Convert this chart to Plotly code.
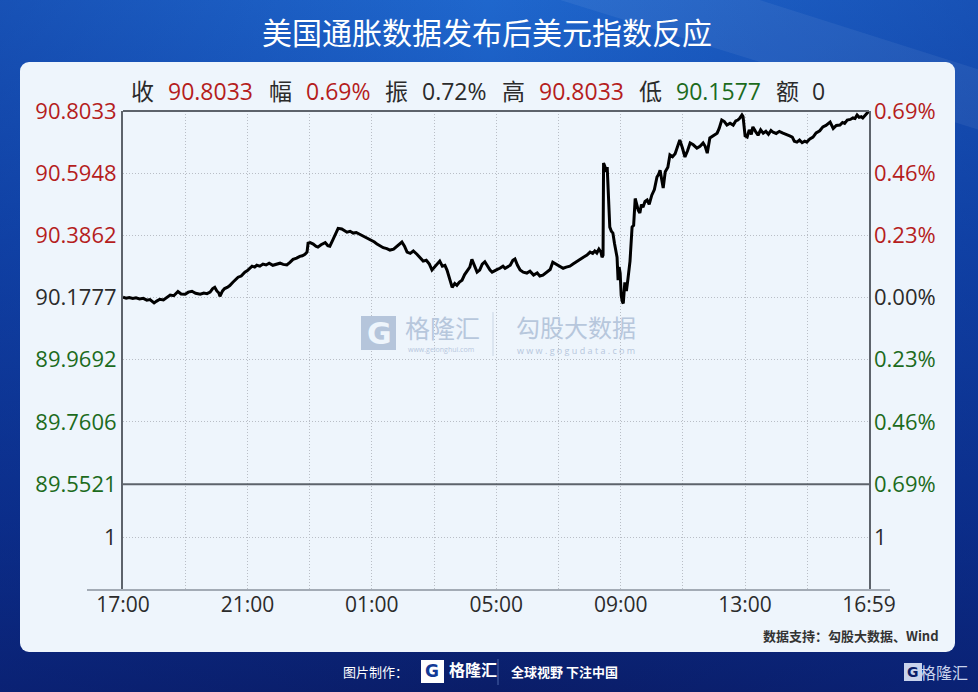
import base64
import plotly.graph_objects as go

# ---------------- data ----------------
TIMES = [
    "17:00","17:06","17:12","17:19","17:25","17:32","17:39","17:46","17:52","18:00",
    "18:05","18:11","18:18","18:24","18:31","18:38","18:46","18:52","19:00","19:06",
    "19:13","19:20","19:29","19:36","19:42","19:48","19:53","19:57","20:01","20:05",
    "20:07","20:12","20:16","20:21","20:26","20:32","20:37","20:42","20:48","20:55",
    "21:00","21:05","21:09","21:14","21:18","21:24","21:30","21:36","21:42","21:49",
    "21:55","22:03","22:09","22:16","22:22","22:28","22:35","22:41","22:46","22:51",
    "22:55","22:57","23:01","23:07","23:12","23:16","23:22","23:26","23:30","23:35",
    "23:39","23:45","23:50","23:55","00:02","00:08","00:12","00:18","00:24","00:30",
    "00:37","00:44","00:49","00:53","01:00","01:05","01:10","01:16","01:22","01:29",
    "01:35","01:42","01:50","01:58","02:03","02:08","02:14","02:20","02:27","02:33",
    "02:39","02:45","02:51","02:56","03:02","03:06","03:11","03:16","03:21","03:25",
    "03:30","03:35","03:40","03:44","03:49","03:54","03:59","04:04","04:09","04:13",
    "04:18","04:23","04:28","04:33","04:38","04:43","04:48","04:52","04:58","05:03",
    "05:07","05:13","05:17","05:21","05:27","05:32","05:36","05:41","05:46","05:52",
    "05:59","06:05","06:12","06:19","06:24","06:30","06:37","06:44","06:49","06:55",
    "07:03","07:09","07:15","07:22","07:28","07:36","07:42","07:48","07:55","08:01",
    "08:06","08:10","08:14","08:18","08:22","08:24","08:26","08:27","08:29","08:31",
    "08:33","08:34","08:36","08:37","08:39","08:42","08:45","08:48","08:50","08:53",
    "08:55","08:57","08:59","09:01","09:03","09:05","09:08","09:11","09:14","09:18",
    "09:22","09:25","09:28","09:31","09:34","09:37","09:40","09:43","09:47","09:51",
    "09:55","10:00","10:05","10:10","10:13","10:16","10:19","10:22","10:26","10:31",
    "10:35","10:40","10:45","10:49","10:54","10:59","11:04","11:09","11:14","11:20",
    "11:27","11:33","11:39","11:43","11:47","11:52","11:58","12:06","12:10","12:15",
    "12:20","12:25","12:31","12:37","12:42","12:46","12:50","12:54","12:56","12:58",
    "13:00","13:04","13:08","13:12","13:15","13:20","13:25","13:30","13:35","13:40",
    "13:45","13:50","13:54","14:00","14:06","14:13","14:20","14:26","14:31","14:35",
    "14:40","14:45","14:50","14:55","14:59","15:05","15:11","15:17","15:24","15:30",
    "15:36","15:40","15:44","15:50","15:56","16:03","16:08","16:12","16:17","16:23",
    "16:28","16:32","16:36","16:40","16:44","16:47","16:52","16:57","16:59",
]
PRICES = [
    90.179,90.176,90.178,90.175,90.177,90.173,90.175,90.169,90.171,90.160,
    90.166,90.172,90.170,90.178,90.186,90.184,90.198,90.190,90.189,90.196,
    90.199,90.192,90.189,90.193,90.191,90.196,90.208,90.212,90.200,90.193,
    90.182,90.200,90.208,90.212,90.218,90.229,90.238,90.246,90.250,90.263,
    90.268,90.276,90.283,90.280,90.286,90.283,90.290,90.287,90.293,90.286,
    90.290,90.293,90.289,90.287,90.296,90.306,90.310,90.316,90.318,90.323,
    90.330,90.360,90.362,90.357,90.350,90.347,90.355,90.360,90.362,90.352,
    90.350,90.372,90.394,90.410,90.408,90.403,90.397,90.400,90.394,90.396,
    90.390,90.383,90.380,90.375,90.368,90.364,90.357,90.350,90.345,90.342,
    90.337,90.340,90.352,90.364,90.350,90.330,90.326,90.334,90.323,90.310,
    90.300,90.303,90.290,90.270,90.283,90.290,90.300,90.283,90.286,90.270,
    90.240,90.212,90.225,90.219,90.230,90.236,90.255,90.270,90.280,90.306,
    90.285,90.263,90.270,90.290,90.298,90.283,90.270,90.263,90.270,90.273,
    90.276,90.283,90.276,90.280,90.286,90.303,90.307,90.286,90.270,90.263,
    90.260,90.266,90.253,90.260,90.250,90.253,90.263,90.272,90.296,90.290,
    90.280,90.276,90.280,90.283,90.290,90.300,90.306,90.313,90.320,90.330,
    90.326,90.334,90.327,90.340,90.330,90.313,90.320,90.629,90.620,90.610,
    90.600,90.615,90.545,90.480,90.414,90.400,90.394,90.360,90.340,90.313,
    90.236,90.280,90.260,90.185,90.165,90.158,90.229,90.200,90.240,90.300,
    90.414,90.420,90.510,90.490,90.470,90.461,90.490,90.481,90.500,90.505,
    90.490,90.521,90.540,90.582,90.590,90.605,90.570,90.545,90.600,90.615,
    90.656,90.650,90.660,90.679,90.706,90.680,90.649,90.670,90.696,90.690,
    90.679,90.685,90.696,90.685,90.662,90.713,90.720,90.729,90.745,90.773,
    90.768,90.756,90.762,90.756,90.770,90.773,90.780,90.790,90.785,90.760,
    90.720,90.716,90.740,90.725,90.750,90.735,90.722,90.740,90.729,90.735,
    90.725,90.738,90.732,90.728,90.735,90.729,90.725,90.720,90.716,90.702,
    90.699,90.706,90.697,90.702,90.699,90.710,90.716,90.730,90.737,90.750,
    90.755,90.760,90.766,90.745,90.755,90.756,90.765,90.762,90.773,90.775,
    90.780,90.778,90.790,90.782,90.784,90.780,90.790,90.800,90.8033,
]

LEFT_TICK_VALUES = [90.8033, 90.5948, 90.3862, 90.1777, 89.9692, 89.7606, 89.5521, 89.3747]
LEFT_TICK_LABELS = ["90.8033", "90.5948", "90.3862", "90.1777", "89.9692", "89.7606", "89.5521", "1"]
RIGHT_TICK_LABELS = ["0.69%", "0.46%", "0.23%", "0.00%", "0.23%", "0.46%", "0.69%", "1"]
TICK_TONES = ["up", "up", "up", "flat", "down", "down", "down", "flat"]
Y_RANGE = [89.1973, 90.8033]
PRICE_PANEL_BOTTOM = 89.5521

X_TICK_TIMES = ["17:00", "21:00", "01:00", "05:00", "09:00", "13:00", "16:59"]
X_MINOR_TIMES = ["19:00", "23:00", "03:00", "07:00", "11:00", "15:00"]

HEADER_ITEMS = [("收", "flat"), ("90.8033", "up"), ("幅", "flat"), ("0.69%", "up"),
                ("振", "flat"), ("0.72%", "flat"), ("高", "flat"), ("90.8033", "up"),
                ("低", "flat"), ("90.1577", "down"), ("额", "flat"), ("0", "flat")]
HEADER_X = [129, 166, 267, 304, 383, 420, 500, 537, 637, 674, 774, 810]

TITLE = "美国通胀数据发布后美元指数反应"
SOURCE = "数据支持：勾股大数据、Wind"

# ---------------- styles ----------------
TONE = {"up": "#b51d1d", "down": "#1c6b1c", "flat": "#2b2b2b"}
NUM_FONT = "Open Sans, Noto Sans CJK SC, sans-serif"
CJK_FONT = "Noto Sans CJK SC, sans-serif"
W, H = 978, 692
L, R, T, B = 123, 869, 111, 590
GRID_DASH = "1px,2px"


def to_dt(hhmm):
    day = "2021-05-11" if int(hhmm[:2]) >= 17 else "2021-05-12"
    return f"{day} {hhmm}:00"


def px(x):
    return (x - L) / (R - L)


def py(y):
    return (B - y) / (B - T)


def colored(text, tone):
    return f'<span style="color:{TONE[tone]}">{text}</span>'


# background (gradient + panel) as inline svg
svg = f"""<svg xmlns='http://www.w3.org/2000/svg' width='{W}' height='{H}'>
<defs>
<linearGradient id='g' x1='0' y1='0' x2='0' y2='1'>
<stop offset='0' stop-color='#1f67cd'/>
<stop offset='0.35' stop-color='#134cb2'/>
<stop offset='0.75' stop-color='#0c2f8a'/>
<stop offset='1' stop-color='#0a1d68'/>
</linearGradient>
<linearGradient id='s' x1='0' y1='0' x2='1' y2='0'>
<stop offset='0' stop-color='#0a2a8a' stop-opacity='0.35'/>
<stop offset='0.5' stop-color='#0a2a8a' stop-opacity='0'/>
<stop offset='1' stop-color='#0a2a8a' stop-opacity='0.35'/>
</linearGradient>
</defs>
<rect width='{W}' height='{H}' fill='url(#g)'/>
<rect width='{W}' height='{H}' fill='url(#s)'/>
<polygon points='560,0 760,0 980,70 980,130' fill='#ffffff' opacity='0.06'/>
<rect x='20' y='62' width='935' height='590' rx='9' fill='#eef5fc'/>
</svg>"""
bg_uri = "data:image/svg+xml;base64," + base64.b64encode(svg.encode("utf-8")).decode()

x_dt = [to_dt(t) for t in TIMES]

fig = go.Figure()
fig.add_trace(go.Scatter(x=x_dt, y=PRICES, mode="lines",
                         line=dict(color="#000000", width=3),
                         hoverinfo="skip", showlegend=False))
fig.add_trace(go.Scatter(x=x_dt, y=PRICES, mode="lines", yaxis="y2",
                         line=dict(color="rgba(0,0,0,0)", width=0),
                         hoverinfo="skip", showlegend=False))

grid = dict(showgrid=True, gridcolor="#b9bec6", gridwidth=1, griddash=GRID_DASH)

fig.update_layout(
    width=W, height=H,
    margin=dict(l=L, r=W - R, t=T, b=H - B),
    paper_bgcolor="#0f3a96",
    plot_bgcolor="rgba(0,0,0,0)",
    images=[dict(source=bg_uri, xref="paper", yref="paper",
                 x=px(0), y=py(0), sizex=W / (R - L), sizey=H / (B - T),
                 xanchor="left", yanchor="top", sizing="stretch", layer="below")],
    xaxis=dict(
        type="date",
        range=[to_dt(X_TICK_TIMES[0]), to_dt(X_TICK_TIMES[-1])],
        tickmode="array",
        tickvals=[to_dt(t) for t in X_TICK_TIMES],
        ticktext=X_TICK_TIMES,
        tickfont=dict(family=NUM_FONT, size=21, color="#2b2b2b"),
        ticks="", showline=False, zeroline=False,
        minor=dict(tickmode="array", tickvals=[to_dt(t) for t in X_MINOR_TIMES],
                   showgrid=True, gridcolor="#b9bec6", gridwidth=1, griddash=GRID_DASH),
        **grid,
    ),
    yaxis=dict(
        range=Y_RANGE, tickmode="array", tickvals=LEFT_TICK_VALUES,
        ticktext=[colored(t, c) for t, c in zip(LEFT_TICK_LABELS, TICK_TONES)],
        tickfont=dict(family=NUM_FONT, size=22, color="#2b2b2b"),
        ticks="", ticklen=0, showline=True, mirror=True,
        linecolor="#5d636b", linewidth=2, zeroline=False, **grid,
    ),
    yaxis2=dict(
        range=Y_RANGE, overlaying="y", side="right", tickmode="array",
        tickvals=LEFT_TICK_VALUES,
        ticktext=[colored(t, c) for t, c in zip(RIGHT_TICK_LABELS, TICK_TONES)],
        tickfont=dict(family=NUM_FONT, size=22, color="#2b2b2b"),
        ticks="", ticklabelstandoff=4, showgrid=False, showline=False, zeroline=False,
    ),
    shapes=[
        dict(type="line", xref="paper", yref="y", x0=0, x1=1,
             y0=PRICE_PANEL_BOTTOM, y1=PRICE_PANEL_BOTTOM,
             line=dict(color="#5d636b", width=2)),
        dict(type="line", xref="paper", yref="paper", x0=0, x1=1, y0=1, y1=1,
             line=dict(color="#5d636b", width=2)),
        dict(type="line", xref="paper", yref="paper", x0=px(87), x1=px(890), y0=0, y1=0,
             line=dict(color="#a3abb5", width=2)),
        # watermark separator
        dict(type="line", xref="paper", yref="paper", x0=px(493), x1=px(493),
             y0=py(312), y1=py(356), line=dict(color="#c9d5e4", width=1)),
        # footer separator
        dict(type="line", xref="paper", yref="paper", x0=px(498), x1=px(498),
             y0=py(659), y1=py(685), line=dict(color="#4a64a8", width=1)),
        # footer logo box
        dict(type="rect", xref="paper", yref="paper", x0=px(421), x1=px(444),
             y0=py(683), y1=py(660), fillcolor="#ffffff", line=dict(width=0)),
        # watermark logo box
        dict(type="rect", xref="paper", yref="paper", x0=px(361), x1=px(396),
             y0=py(350), y1=py(316), fillcolor="#b5c5db", line=dict(width=0)),
        # bottom-right logo box
        dict(type="rect", xref="paper", yref="paper", x0=px(904), x1=px(922),
             y0=py(681), y1=py(663), fillcolor="#c9d3ec", line=dict(width=0)),
    ],
)

annotations = [
    dict(text=TITLE, x=px(487), y=py(31), font=dict(family=CJK_FONT, size=30, color="#ffffff")),
    # watermark
    dict(text="<b>G</b>", x=px(379), y=py(333), font=dict(family="DejaVu Sans", size=30, color="#eef5fc")),
    dict(text="格隆汇", x=px(403), y=py(327), xanchor="left",
         font=dict(family=CJK_FONT, size=25, color="#b7c7dc")),
    dict(text="www.gelonghui.com", x=px(441), y=py(349),
         font=dict(family="Open Sans", size=7, color="#b7c7dc")),
    dict(text="勾股大数据", x=px(514), y=py(326), xanchor="left",
         font=dict(family=CJK_FONT, size=24, color="#b7c7dc")),
    dict(text="w w w . g o g u d a t a . c o m", x=px(576), y=py(350),
         font=dict(family="Open Sans", size=9, color="#b7c7dc")),
    # source
    dict(text=f"<b>{SOURCE}</b>", x=px(941), y=py(635), xanchor="right",
         font=dict(family=CJK_FONT, size=13, color="#333333")),
    # footer
    dict(text="图片制作：", x=px(410), y=py(671), xanchor="right",
         font=dict(family=CJK_FONT, size=13, color="#ffffff")),
    dict(text="<b>G</b>", x=px(432), y=py(671), font=dict(family="DejaVu Sans", size=17, color="#123a96")),
    dict(text="<b>格隆汇</b>", x=px(447), y=py(669), xanchor="left",
         font=dict(family=CJK_FONT, size=16, color="#ffffff")),
    dict(text="<b>全球视野 下注中国</b>", x=px(509), y=py(671), xanchor="left",
         font=dict(family=CJK_FONT, size=13, color="#ffffff")),
    dict(text="<b>G</b>", x=px(913), y=py(672), font=dict(family="DejaVu Sans", size=14, color="#0a1d68")),
    dict(text="格隆汇", x=px(970), y=py(672), xanchor="right",
         font=dict(family=CJK_FONT, size=16, color="#c9d3ec")),
]
for (txt, tone), hx in zip(HEADER_ITEMS, HEADER_X):
    annotations.append(dict(text=colored(txt, tone), x=px(hx), y=py(91), xanchor="left",
                            font=dict(family=NUM_FONT, size=23, color="#2b2b2b")))
for a in annotations:
    a.setdefault("xref", "paper")
    a.setdefault("yref", "paper")
    a.setdefault("showarrow", False)
    a.setdefault("xanchor", "center")
    a.setdefault("yanchor", "middle")
fig.update_layout(annotations=annotations)

fig.write_html("out.html",
               config={"displayModeBar": False},
               post_script="document.body.style.margin='0';document.body.style.overflow='hidden';")
